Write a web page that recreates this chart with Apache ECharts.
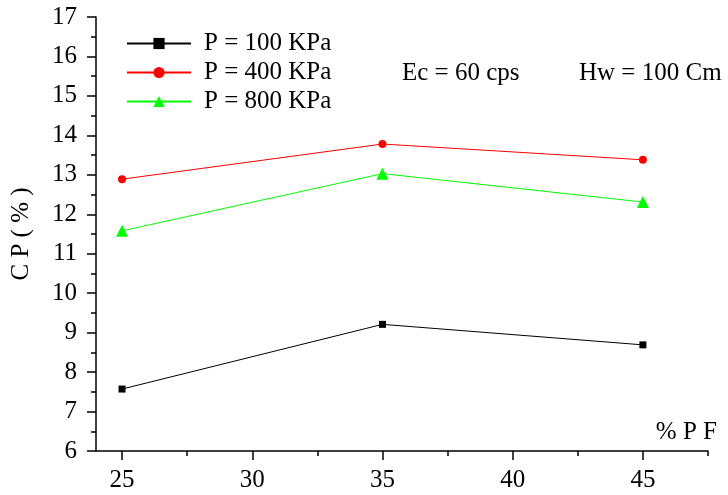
<!DOCTYPE html>
<html>
<head>
<meta charset="utf-8">
<script src="https://cdn.jsdelivr.net/npm/echarts@6/dist/echarts.min.js"></script>
<style>
  html, body { margin: 0; padding: 0; background: #fff; }
  #chart { width: 728px; height: 495px; }
</style>
</head>
<body>
<div id="chart"></div>
<script>
// % PF values (x) and CP (%) measured at three pressures
const pfValues = [25, 35, 45];
const cp100 = [7.57, 9.21, 8.69];
const cp400 = [12.89, 13.78, 13.38];
const cp800 = [11.58, 13.03, 12.31];
const seriesNames = ['P = 100 KPa', 'P = 400 KPa', 'P = 800 KPa'];
const xMajorTicks = [25, 30, 35, 40, 45];
const xMinorTicks = [27.5, 32.5, 37.5, 42.5, 47.5];
const notes = ['Ec = 60 cps', 'Hw = 100 Cm'];

const FONT = 'Liberation Serif';
const FS = 25;

const pairs = ys => pfValues.map((x, i) => [x, ys[i]]);

const chart = echarts.init(document.getElementById('chart'));
chart.setOption({
  backgroundColor: '#fff',
  animation: false,
  textStyle: { fontFamily: FONT, color: '#000' },
  grid: { left: 96, right: 20, top: 17, bottom: 44, containLabel: false },
  legend: {
    orient: 'vertical',
    left: 121,
    top: 24,
    itemWidth: 64,
    itemHeight: 14,
    itemGap: 0,
    textStyle: { fontFamily: FONT, fontSize: FS, color: '#000', lineHeight: 29, padding: [0, 0, 0, 8] },
    data: seriesNames
  },
  xAxis: [
    {
      type: 'value',
      min: 24,
      max: 47.5,
      name: '% P F',
      nameLocation: 'end',
      nameGap: 9,
      nameTextStyle: { fontFamily: FONT, fontSize: FS, color: '#000', align: 'right', verticalAlign: 'bottom', padding: [0, 0, 6, 0] },
      axisLine: { show: true, lineStyle: { color: '#000', width: 1.5 } },
      axisTick: { show: true, inside: false, length: 9, customValues: xMajorTicks, lineStyle: { color: '#000', width: 1.5 } },
      axisLabel: { show: true, customValues: xMajorTicks, fontFamily: FONT, fontSize: FS, color: '#000', margin: 17 },
      splitLine: { show: false }
    },
    {
      // minor ticks halfway between the labelled values
      type: 'value',
      min: 24,
      max: 47.5,
      position: 'bottom',
      axisLine: { show: false },
      axisTick: { show: true, length: 5, customValues: xMinorTicks, lineStyle: { color: '#000', width: 1.5 } },
      axisLabel: { show: false },
      splitLine: { show: false }
    }
  ],
  yAxis: {
    type: 'value',
    min: 6,
    max: 17,
    interval: 1,
    name: 'C P ( % )',
    nameLocation: 'middle',
    nameGap: 62,
    nameRotate: 90,
    nameTextStyle: { fontFamily: FONT, fontSize: FS, color: '#000' },
    axisLine: { show: true, lineStyle: { color: '#000', width: 1.5 } },
    axisTick: { show: true, length: 9, lineStyle: { color: '#000', width: 1.5 } },
    minorTick: { show: true, splitNumber: 2, length: 5, lineStyle: { color: '#000', width: 1.5 } },
    axisLabel: { fontFamily: FONT, fontSize: FS, color: '#000', margin: 19 },
    splitLine: { show: false },
    minorSplitLine: { show: false }
  },
  series: [
    {
      name: seriesNames[0],
      type: 'line',
      data: pairs(cp100),
      symbol: 'rect',
      symbolSize: 7,
      itemStyle: { color: '#000' },
      lineStyle: { color: '#000', width: 1 }
    },
    {
      name: seriesNames[1],
      type: 'line',
      data: pairs(cp400),
      symbol: 'circle',
      symbolSize: 8,
      itemStyle: { color: '#ff0000' },
      lineStyle: { color: '#ff0000', width: 1 }
    },
    {
      name: seriesNames[2],
      type: 'line',
      data: pairs(cp800),
      symbol: 'triangle',
      symbolSize: 12,
      itemStyle: { color: '#00ff00' },
      lineStyle: { color: '#00ff00', width: 1 }
    }
  ],
  graphic: [
    { type: 'text', left: 402, top: 61, style: { text: notes[0], font: FS + 'px "' + FONT + '"', fill: '#000' } },
    { type: 'text', left: 579, top: 61, style: { text: notes[1], font: FS + 'px "' + FONT + '"', fill: '#000' } }
  ]
});
</script>
</body>
</html>
